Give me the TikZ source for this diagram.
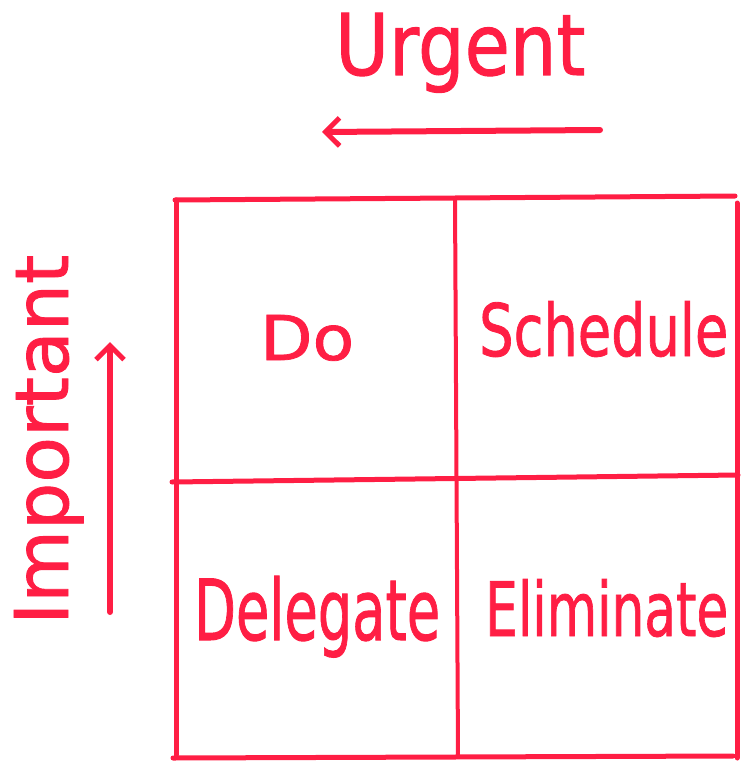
\documentclass[tikz,border=0pt]{standalone}
\usepackage{fontspec}
\setmainfont{DejaVu Sans}[FakeBold=1.2]
\usetikzlibrary{arrows.meta}
\definecolor{ink}{RGB}{255,30,68}
% scale a word to a given width and height (pt)
\newcommand{\fitword}[3]{\resizebox{#1pt}{#2pt}{#3}}
\begin{document}
\begin{tikzpicture}[x=1pt,y=-1pt,
  grid/.style={draw=ink,line width=5pt,line cap=round,line join=round},
  axis/.style={draw=ink,line width=6pt,line cap=round,
    -{Straight Barb[length=14pt,width=28pt,line width=5pt]}},
  word/.style={text=ink,inner sep=0pt,anchor=base west}]
\useasboundingbox (0,0) rectangle (749,773);

% axis titles
\node[word] (urgent) at (335,75) {\fitword{250}{62}{Urgent}};
\node[word,rotate=90] (important) at (68,625) {\fitword{370}{54}{Important}};

% axis arrows
\coordinate (uA) at (600,130);
\coordinate (uB) at (322,132);
\draw[axis] (uA) -- (uB);
\coordinate (iA) at (110,612);
\coordinate (iB) at (110,342);
\draw[axis] (iA) -- (iB);

% the four-cell grid
\coordinate (tl) at (175,200);
\coordinate (tr) at (735,196);
\coordinate (bl) at (173,758);
\coordinate (br) at (733,756);
\draw[grid] (tl) -- (tr);
\draw[grid] (176,200) -- (176,755);
\draw[grid] (737,203) -- (737,758);
\draw[grid] (bl) -- (br);
\draw[grid,line width=4pt] (455,198) -- (458,757);
\draw[grid] (172,482) -- (738,475);

% cell labels
\node[word] (do) at (260,360) {\fitword{94}{45}{Do}};
\node[word] (schedule) at (479,356) {\fitword{249}{55}{Schedule}};
\node[word] (delegate) at (194,640) {\fitword{246}{64}{Delegate}};
\node[word] (eliminate) at (485,636) {\fitword{243}{57}{Eliminate}};
\end{tikzpicture}
\end{document}
